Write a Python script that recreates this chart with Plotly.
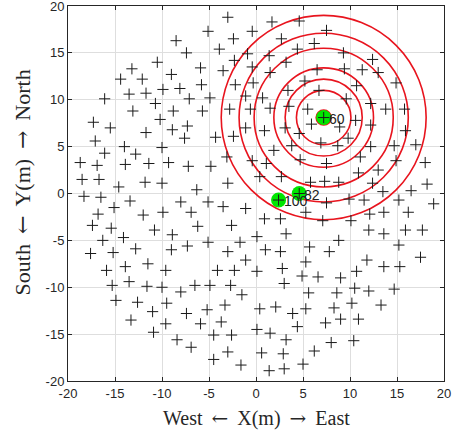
import plotly.graph_objects as go

# '+' positions (m)
x_pts = [
 -3.0,-5.1,-2.4,-8.5,-3.9,-7.4,-2.3,-10.5,-13.2,-5.9,-3.5,-9.0,-14.4,-12.1,-5.8,-2.2,-9.9,-8.1,-13.5,-11.7,
 -16.1,-7.1,-4.9,-13.1,-10.7,-8.8,-5.7,-2.8,-10.2,-17.3,-15.5,-7.3,-8.9,-11.7,-17.1,-4.3,-2.4,-7.6,-14.0,-10.0,
 -16.1,-12.8,-3.1,-18.7,-16.9,-13.9,-11.4,-9.3,-7.2,-4.8,-18.5,-16.7,-11.8,-10.0,-3.0,-14.6,-6.3,
 -18.3,-16.5,-13.4,-8.0,-5.1,-3.5,-15.1,-16.8,-12.0,-9.9,-6.9,-17.4,-15.4,-6.2,-2.6,-10.8,-8.9,-14.1,-16.3,-5.1,
 -1.7,-7.3,-12.8,-9.0,-17.6,-15.2,-3.0,-11.5,-13.9,-15.9,-9.6,-4.1,-2.3,-13.5,-15.3,-11.6,-10.0,-6.5,-4.9,-2.7,
 -8.0,-1.5,-14.9,-12.6,-9.5,-3.3,-11.0,-7.4,-5.2,-13.3,-9.6,-5.9,-3.7,-10.9,-4.5,-2.6,-8.4,-6.9,-3.0,-4.5,-1.6,
 2.4,4.6,7.5,9.9,11.5,15.2,18.9,-1.1,5.3,12.1,13.6,16.2,0.9,2.6,7.1,10.1,12.0,13.6,15.9,17.7,
 0.1,3.2,8.8,1.0,2.6,5.7,7.8,15.2,17.5,-1.1,5.3,11.8,0.1,2.8,13.6,15.3,4.9,6.6,9.0,10.7,
 3.0,10.5,12.0,14.7,5.6,8.6,10.2,13.3,0.4,2.1,5.3,8.3,3.9,9.0,10.9,7.4,4.4,0.1,1.5,3.2,
 8.0,10.4,0.6,2.9,6.2,1.4,3.0,5.0,
 1.7,4.6,-0.4,7.5,2.7,6.2,4.4,-0.9,1.4,9.3,-0.4,3.2,12.4,6.5,9.4,11.3,13.0,1.5,5.2,-0.3,
 10.7,14.9,3.4,6.7,-1.1,0.7,9.6,3.5,12.2,5.5,13.8,15.8,-0.6,1.5,7.2,5.9,8.9,10.6,12.2,-1.1,
 3.1,0.9,15.9,4.6,9.8,3.8,6.9,8.7,12.2,14.7,17.0,1.9,-0.4,4.7,7.5,11.1,1.1,18.0,10.9,13.0,
 14.9,0.4,2.7,5.8,7.3,8.8,12.4,18.2,13.5,16.5,
]
y_pts = [
 18.8,17.3,16.5,16.3,15.4,15.0,14.2,14.0,13.3,13.4,13.1,12.7,12.2,12.2,11.6,11.6,11.1,11.2,10.6,10.7,
 10.1,10.1,10.2,8.8,9.6,8.8,8.8,9.0,7.9,7.6,7.0,7.2,6.8,6.5,5.6,6.0,6.1,5.9,5.0,4.9,
 4.3,4.2,3.9,3.3,3.0,3.1,3.2,3.3,2.9,2.9,1.5,1.5,1.2,1.1,1.1,0.7,0.4,
 -0.3,-0.4,-0.8,-0.9,-0.9,-1.4,-1.5,-2.2,-2.3,-2.0,-2.0,-3.4,-3.7,-3.5,-3.4,-3.9,-4.4,-4.7,-5.0,-5.2,
 -5.2,-5.6,-5.9,-6.0,-6.4,-6.3,-6.2,-7.5,-7.8,-8.2,-8.2,-8.2,-8.2,-9.4,-9.8,-9.9,-10.0,-9.8,-9.8,-9.8,
 -10.5,-10.8,-11.4,-11.6,-11.7,-11.9,-12.6,-12.8,-12.4,-13.5,-13.9,-13.9,-13.7,-14.8,-15.1,-15.1,-15.6,-16.4,-16.9,-17.7,-18.3,
 -0.7,0.0,-1.0,-0.6,-0.7,-0.7,-1.1,-1.6,-2.0,-2.2,-2.0,-2.0,-2.7,-2.7,-2.9,-2.9,-3.9,-4.3,-3.9,-3.9,
 -4.6,-4.3,-5.0,-6.0,-6.2,-5.7,-6.2,-5.5,-6.8,-7.1,-7.3,-7.1,-8.3,-8.0,-7.8,-7.8,-8.8,-8.9,-9.0,-8.3,
 -9.6,-10.1,-10.4,-10.2,-10.6,-10.6,-11.7,-11.9,-12.3,-12.1,-12.3,-12.2,-12.8,-13.4,-13.4,-13.8,-14.2,-14.5,-14.9,-15.6,
 -15.9,-15.7,-17.0,-17.1,-16.8,-18.9,-18.7,-18.2,
 18.3,18.4,17.3,17.4,16.5,16.0,15.4,14.9,14.7,15.0,13.5,14.0,14.3,13.2,13.3,13.2,12.9,12.9,12.0,11.8,
 11.5,11.8,11.0,11.0,10.4,10.2,10.1,9.3,9.6,9.0,9.0,9.0,9.0,9.1,8.1,7.4,7.1,7.8,7.3,7.0,
 7.0,6.7,6.7,6.4,5.9,5.1,5.4,5.1,5.0,5.1,5.2,4.6,3.5,3.6,3.2,3.9,3.2,3.3,2.2,2.5,
 3.5,1.8,1.8,1.2,1.3,1.2,1.1,1.0,0.2,0.3,
]

# highlighted points
hl_x = [7.2, 4.6, 2.4]
hl_y = [8.1, 0.0, -0.7]
hl_labels = ["60", "82", "100"]

# concentric circles around point 60
circle_cx = 7.2
circle_cy = 8.1
circle_r = [0.8, 2.9, 4.1, 5.3, 7.4, 9.0, 10.9]

tick_vals = [-20, -15, -10, -5, 0, 5, 10, 15, 20]
tick_text = ["-20", "-15", "-10", "-5", "0", "5", "10", "15", "20"]

ARR_L = '<span style="font-family:DejaVu Serif">←</span>'
ARR_R = '<span style="font-family:DejaVu Serif">→</span>'
SP = "\u2009"
x_title = "West " + SP + ARR_L + SP + " X(m) " + SP + ARR_R + SP + " East"
y_title = "South " + SP + ARR_L + SP + " Y(m) " + SP + ARR_R + SP + " North"

fig = go.Figure()

fig.add_trace(go.Scatter(
    x=hl_x, y=hl_y, mode="markers",
    marker=dict(symbol="circle", size=15, color="#00e600", line=dict(width=0)),
    hoverinfo="skip", showlegend=False))

fig.add_trace(go.Scatter(
    x=x_pts, y=y_pts, mode="markers",
    marker=dict(symbol="cross-thin-open", size=8, line=dict(width=1, color="#1a1a1a"), color="#1a1a1a"),
    showlegend=False))

for r in circle_r:
    fig.add_shape(type="circle", xref="x", yref="y",
                  x0=circle_cx - r, x1=circle_cx + r, y0=circle_cy - r, y1=circle_cy + r,
                  line=dict(color="#e8141e", width=1.6), layer="between")

for xv, yv, t in zip(hl_x, hl_y, hl_labels):
    fig.add_annotation(x=xv, y=yv, text=t, showarrow=False, xanchor="left", yanchor="middle",
                       xshift=3, yshift=-1,
                       font=dict(family="Liberation Sans", size=14, color="#222222"))

axis_common = dict(
    range=[-20, 20], tickvals=tick_vals, ticktext=tick_text,
    showgrid=True, gridcolor="#dedede", gridwidth=1, zeroline=False,
    showline=True, linecolor="#262626", linewidth=1, mirror="ticks",
    ticks="inside", ticklen=4, tickcolor="#262626", ticklabeloverflow="allow",
    tickfont=dict(family="Liberation Sans", size=13, color="#262626"),
)
fig.update_xaxes(**axis_common)
fig.update_yaxes(**axis_common)

fig.add_annotation(xref="paper", yref="paper", x=0.5, y=-0.099, text=x_title,
                   showarrow=False, xanchor="center", yanchor="middle",
                   font=dict(family="Liberation Serif", size=20, color="#262626"))
fig.add_annotation(xref="paper", yref="paper", x=-0.122, y=0.53, text=y_title,
                   showarrow=False, xanchor="center", yanchor="middle", textangle=-90,
                   font=dict(family="Liberation Serif", size=22, color="#262626"))

fig.update_layout(
    width=457, height=432,
    margin=dict(l=68, r=13, t=6, b=51, autoexpand=False),
    paper_bgcolor="white", plot_bgcolor="white",
    showlegend=False,
)

fig.write_html("out.html", config={"displayModeBar": False},
               post_script="document.body.style.margin='0';document.body.style.overflow='hidden';")
